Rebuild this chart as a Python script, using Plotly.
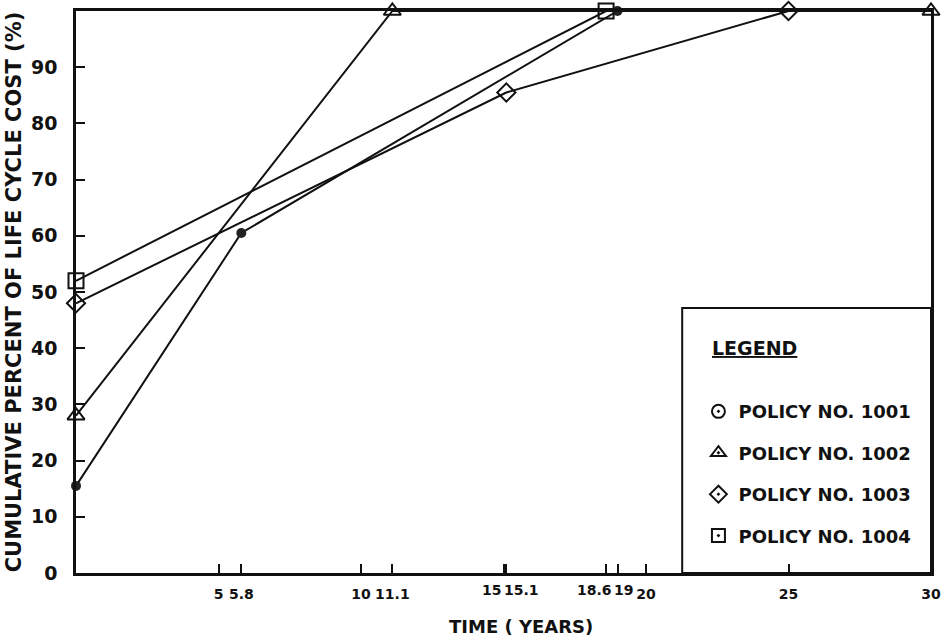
import plotly.graph_objects as go

# ---- data ----
years_1001 = [0, 5.8, 19]
cost_1001 = [15.5, 60.5, 100]
years_1002 = [0, 11.1, 30]
cost_1002 = [28, 100, 100]
years_1003 = [0, 15.1, 25]
cost_1003 = [48, 85.5, 100]
years_1004 = [0, 18.6]
cost_1004 = [52, 100]

policy_names = ["POLICY NO. 1001", "POLICY NO. 1002", "POLICY NO. 1003", "POLICY NO. 1004"]

x_tickvals = [5, 5.8, 10, 11.1, 15, 15.1, 18.6, 19, 20, 25, 30]
x_ticktext = ["5", "5.8", "10", "11.1", "15", "15.1", "18.6", "19", "20", "25", "30"]
# tick labels that sit too close together are drawn as shifted annotations
crowded_ticks = {15: -12, 15.1: 15, 18.6: -12, 19: 6}
y_tickvals = [0, 10, 20, 30, 40, 50, 60, 70, 80, 90]

FONT = "DejaVu Sans"
INK = "#111111"

series = [
    (years_1001, cost_1001, dict(symbol="circle", size=10, color="#222222"), "circle-open-dot"),
    (years_1002, cost_1002, dict(symbol="triangle-up-open", size=15, color=INK, line=dict(width=2, color=INK)), "triangle-up-open-dot"),
    (years_1003, cost_1003, dict(symbol="diamond-open", size=14, color=INK, line=dict(width=2, color=INK)), "diamond-open-dot"),
    (years_1004, cost_1004, dict(symbol="square-open", size=15, color=INK, line=dict(width=2, color=INK)), "square-open-dot"),
]

fig = go.Figure()
for (xs, ys, mk, _), name in zip(series, policy_names):
    fig.add_trace(go.Scatter(x=xs, y=ys, mode="lines+markers", name=name,
                             line=dict(color=INK, width=2), marker=mk,
                             showlegend=False, cliponaxis=False))

# legend-only entries (marker symbols only, as in the original legend)
for i, ((_, _, _, legsym), name) in enumerate(zip(series, policy_names)):
    fig.add_trace(go.Scatter(x=[None], y=[None], mode="markers", name=name,
                             legendgroup=f"g{i}",
                             marker=dict(symbol=legsym, size=13, color=INK,
                                         line=dict(width=2, color=INK))))

tick_text_shown = [("" if v in crowded_ticks else t) for v, t in zip(x_tickvals, x_ticktext)]

annotations = [
    dict(text="<u>LEGEND</u>", xref="paper", yref="paper", x=0.741, y=0.40,
         xanchor="left", yanchor="middle", showarrow=False,
         font=dict(size=19, family=FONT, weight="bold", color=INK)),
    dict(text="TIME ( YEARS)", xref="paper", yref="paper", x=0.5, y=0,
         xshift=17, yshift=-53, xanchor="center", yanchor="middle", showarrow=False,
         font=dict(size=18, family=FONT, weight="bold", color=INK)),
]
for v, t in zip(x_tickvals, x_ticktext):
    if v in crowded_ticks:
        annotations.append(dict(text=t, x=v, xref="x", yref="paper", y=0, yanchor="top",
                                xanchor="center", xshift=crowded_ticks[v], yshift=-7,
                                showarrow=False,
                                font=dict(size=14, family=FONT, weight="bold", color=INK)))

fig.update_layout(
    width=945, height=641,
    margin=dict(l=76, r=14, t=11, b=68),
    paper_bgcolor="white", plot_bgcolor="white",
    font=dict(family=FONT, color=INK, size=14, weight="bold"),
    xaxis=dict(range=[0, 30], tickvals=x_tickvals, ticktext=tick_text_shown, tickangle=0,
               ticks="inside", ticklen=9, tickwidth=2, tickcolor=INK,
               showline=True, linecolor=INK, linewidth=2.5, mirror=True,
               showgrid=False, zeroline=False, ticklabelstandoff=6, automargin=False,
               tickfont=dict(size=14, family=FONT, weight="bold")),
    yaxis=dict(range=[0, 100], tickvals=y_tickvals,
               ticks="inside", ticklen=9, tickwidth=2, tickcolor=INK,
               showline=True, linecolor=INK, linewidth=2.5, mirror=True,
               showgrid=False, zeroline=False, ticklabelstandoff=12, automargin=False,
               tickfont=dict(size=19, family=FONT, weight="bold"),
               title=dict(text="CUMULATIVE PERCENT OF LIFE CYCLE COST (%)", standoff=4,
                          font=dict(size=21, family=FONT, weight="bold"))),
    legend=dict(x=0.728, y=0.32, xanchor="left", yanchor="top",
                bgcolor="rgba(0,0,0,0)", borderwidth=0,
                traceorder="grouped", tracegroupgap=15,
                font=dict(size=18, family=FONT, weight="bold", color=INK)),
    shapes=[dict(type="rect", xref="paper", yref="paper", x0=0.709, x1=1, y0=0, y1=0.4715,
                 line=dict(color=INK, width=2))],
    annotations=annotations,
)

fig.write_html("out.html")
